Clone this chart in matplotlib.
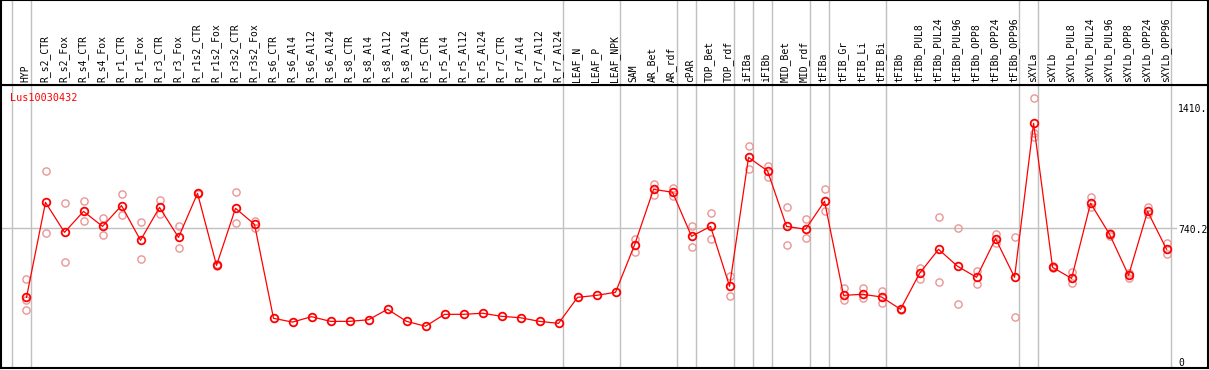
import numpy as np
import matplotlib
matplotlib.use("Agg")
from matplotlib import pyplot as plt

# ---- sample labels
samples = ["HYP",
           "R_s2_CTR", "R_s2_Fox", "R_s4_CTR", "R_s4_Fox", "R_r1_CTR", "R_r1_Fox",
           "R_r3_CTR", "R_r3_Fox", "R_r1s2_CTR", "R_r1s2_Fox", "R_r3s2_CTR", "R_r3s2_Fox",
           "R_s6_CTR", "R_s6_Al4", "R_s6_Al12", "R_s6_Al24",
           "R_s8_CTR", "R_s8_Al4", "R_s8_Al12", "R_s8_Al24",
           "R_r5_CTR", "R_r5_Al4", "R_r5_Al12", "R_r5_Al24",
           "R_r7_CTR", "R_r7_Al4", "R_r7_Al12", "R_r7_Al24",
           "LEAF_N", "LEAF_P", "LEAF_NPK", "SAM", "AR_Bet", "AR_rdf", "cPAR",
           "TOP_Bet", "TOP_rdf", "iFIBa", "iFIBb", "MID_Bet", "MID_rdf", "tFIBa",
           "tFIB_Gr", "tFIB_Li", "tFIB_Bi", "tFIBb",
           "tFIBb_PUL8", "tFIBb_PUL24", "tFIBb_PUL96", "tFIBb_OPP8", "tFIBb_OPP24", "tFIBb_OPP96",
           "sXYLa", "sXYLb",
           "sXYLb_PUL8", "sXYLb_PUL24", "sXYLb_PUL96", "sXYLb_OPP8", "sXYLb_OPP24", "sXYLb_OPP96"]

# ---- mean expression
means = [358,
         884, 718, 834, 751, 866, 674, 856, 690, 934, 535, 851, 762,
         242, 221, 251, 225, 225, 234, 292, 225, 198, 264, 264, 270, 253, 245, 225, 214,
         358, 369, 386, 648, 956, 940, 696, 751, 419, 1133, 1058, 751, 735, 890,
         369, 375, 360, 292, 491, 624, 530, 469, 683, 469,
         1322, 524, 463, 879, 707, 480, 834, 624]

# ---- replicates (sample index, value)
rep_idx = [0, 0, 0, 1, 1, 2, 2, 3, 3, 4, 4, 5, 5, 6, 6, 7, 7, 8, 8, 9, 9, 10, 10,
           11, 11, 12, 12,
           32, 32, 33, 33, 34, 34, 35, 35, 36, 36, 37, 37, 38, 38, 39, 39, 40, 40,
           41, 41, 42, 42, 43, 43, 44, 44, 45, 45, 46, 46, 47, 47, 48, 48, 49, 49,
           50, 50, 51, 51, 52, 52, 53, 53, 53, 54, 54, 55, 55, 56, 56, 57, 57,
           58, 58, 59, 59, 60, 60]
rep_val = [458, 342, 286, 1056, 713, 879, 552, 890, 779, 796, 702, 929, 812, 774, 569,
           895, 818, 751, 630, 938, 930, 540, 530, 940, 768, 780, 744,
           683, 607, 984, 923, 962, 917, 751, 635, 823, 679, 475, 364, 1194, 1067,
           1084, 1023, 857, 646, 790, 685, 956, 834, 408, 342, 408, 353, 391, 325,
           296, 288, 519, 458, 801, 441, 740, 319, 502, 430, 710, 657, 690, 247,
           1460, 1266, 1244, 530, 518, 497, 436, 912, 857, 712, 700, 491, 463,
           857, 818, 657, 596]

# ---- group separators (after these sample indices)
sep_after = [-1, 0, 28, 31, 34, 35, 37, 38, 39, 41, 42, 45, 52, 53, 60]

gene = "Lus10030432"
ref_ticks = [0, 740.2, 1410]
ref_labels = ["0", "740.2", "1410."]

W, H = 1209, 370
fig = plt.figure(figsize=(W / 100, H / 100), dpi=100)
ax = fig.add_axes([1 / W, 2 / H, 1207 / W, 283 / H])
axh = fig.add_axes([1 / W, 285 / H, 1207 / W, 85 / H])

xlo, xhi = -1.342, 62.18
for a in (ax, axh):
    a.set_xlim(xlo, xhi)
    a.set_xticks([])
    a.set_yticks([])
    for s in a.spines.values():
        s.set_linewidth(1.5)
    for i in sep_after:
        a.axvline(i + 0.22, color="#c0c0c0", lw=1, zorder=0)
axh.set_ylim(0, 1)
ax.set_ylim(-33.2, 1533.8)

ax.axhline(740.2, xmax=(1176 - 1) / 1207, color="#c0c0c0", lw=1, zorder=0)

x = np.arange(len(samples))
ax.plot(rep_idx, rep_val, ls="none", marker="o", ms=5.2, mfc="none", mec="#eb9696", mew=1.0, zorder=2)
ax.plot(x, means, color="red", lw=0.9, marker="o", ms=5.5, mfc="none", mec="red", mew=1.3, zorder=3)

for i, s in enumerate(samples):
    axh.text(i - 0.05, 0.03, s, rotation=90, ha="center", va="bottom",
             fontsize=7, family="DejaVu Sans Mono")

ax.text(-0.86, 1460, gene, color="red", fontsize=7.3, family="DejaVu Sans Mono",
        ha="left", va="center")
for v, lab in zip(ref_ticks, ref_labels):
    ax.text(60.6, v - 8, lab, fontsize=7, family="DejaVu Sans Mono", ha="left", va="center")

fig.savefig("out.png", dpi=100)
